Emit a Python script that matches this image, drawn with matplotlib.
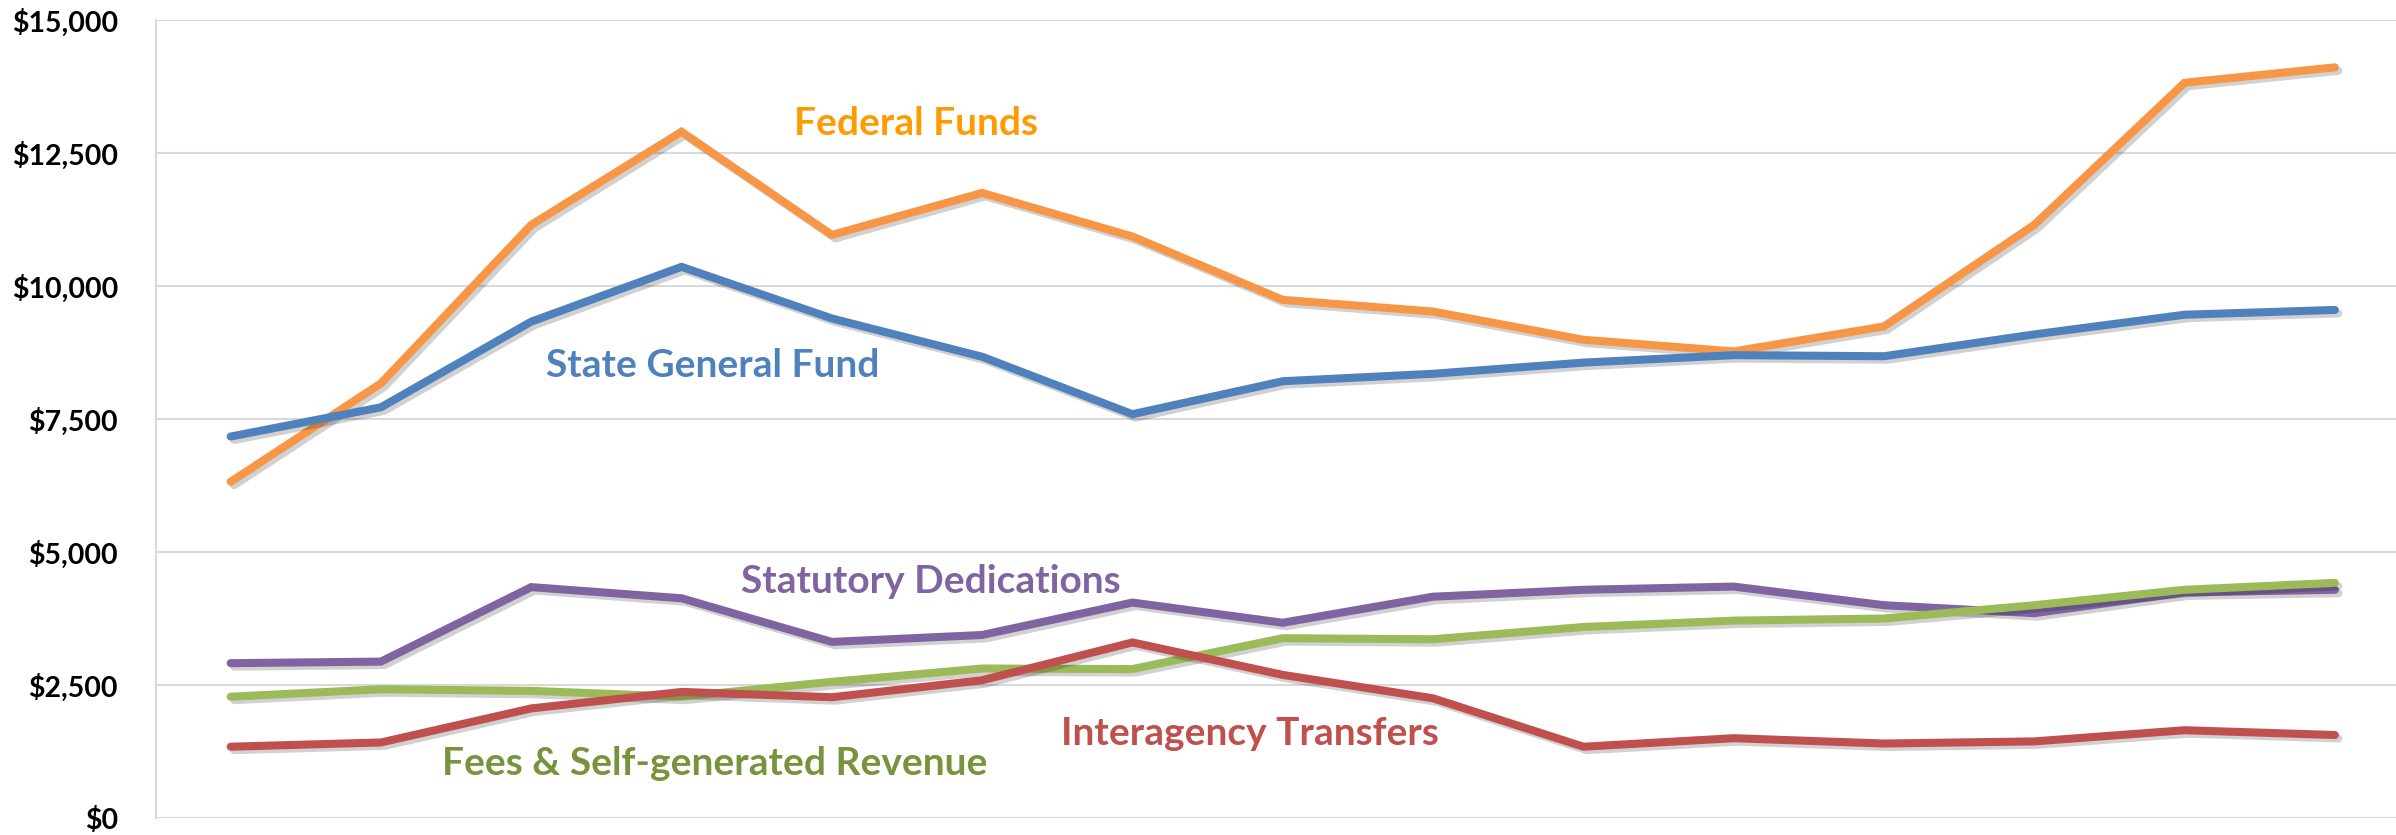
import matplotlib
matplotlib.use("Agg")
import matplotlib.pyplot as plt
import matplotlib.patheffects as pe
from matplotlib.ticker import FuncFormatter

plt.rcParams['font.family'] = ['Lato', 'DejaVu Sans']

# fifteen fiscal years, dollars in millions
years = list(range(15))

federal_funds = [6320, 8170, 11150, 12900, 10960, 11750, 10930, 9740, 9520, 8990, 8770, 9240, 11150, 13820, 14110]
state_general = [7170, 7720, 9330, 10360, 9390, 8670, 7590, 8210, 8350, 8560, 8700, 8680, 9090, 9460, 9550]
statutory_ded = [2910, 2940, 4340, 4130, 3310, 3440, 4050, 3670, 4160, 4290, 4350, 4000, 3850, 4240, 4290]
fees_self_gen = [2280, 2420, 2390, 2280, 2560, 2810, 2800, 3380, 3360, 3590, 3710, 3750, 4000, 4290, 4420]
interagency = [1340, 1420, 2060, 2370, 2270, 2590, 3300, 2690, 2250, 1340, 1500, 1400, 1440, 1650, 1560]

series = [
    (federal_funds, "#F79646", "Federal Funds", "#FF9A00", 4.56, 12830),
    (state_general, "#4F81BD", "State General Fund", "#4F81BD", 3.21, 8290),
    (statutory_ded, "#8064A2", "Statutory Dedications", "#8064A2", 4.66, 4230),
    (fees_self_gen, "#9BBB59", "Fees & Self-generated Revenue", "#77933C", 3.22, 810),
    (interagency, "#C0504D", "Interagency Transfers", "#C0504D", 6.78, 1370),
]

fig = plt.figure(figsize=(23.96, 8.35), dpi=100)
ax = fig.add_axes([155.5 / 2396, 17 / 835, 1 - 155.5 / 2396, 798 / 835])

shadow = [pe.SimpleLineShadow(offset=(2.5, -2.5), alpha=0.18, shadow_color="black"), pe.Normal()]

for vals, color, label, tcolor, lx, ly in series:
    ax.plot(years, vals, color=color, lw=5.8, solid_capstyle="round", solid_joinstyle="miter",
            path_effects=shadow, zorder=3)
    ax.text(lx, ly, label, color=tcolor, fontsize=28, fontweight="bold",
            ha="center", va="baseline", zorder=4)

ax.set_xlim(-0.5, -0.5 + (2396 - 155.5) / 150.3)
ax.set_ylim(0, 15000)
ax.set_yticks(range(0, 15001, 2500))
ax.yaxis.set_major_formatter(FuncFormatter(lambda v, p: "${:,.0f}".format(v)))
ax.set_xticks([])
ax.tick_params(axis="y", length=0, pad=27, labelsize=20.5)
for lbl in ax.get_yticklabels():
    lbl.set_fontweight("bold")

ax.grid(axis="y", color="#D9D9D9", lw=1.5, zorder=0)
for side in ["top", "right", "bottom"]:
    ax.spines[side].set_visible(False)
ax.spines["left"].set_color("#D9D9D9")
ax.spines["left"].set_linewidth(1.5)

fig.savefig("out.png", dpi=100)
